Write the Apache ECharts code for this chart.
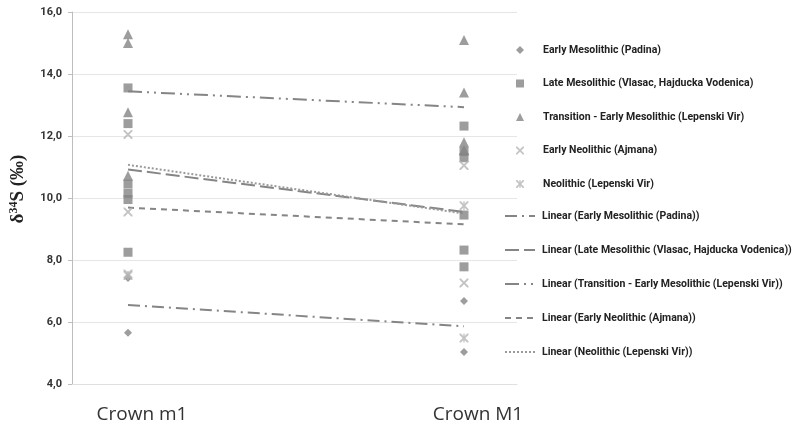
<!DOCTYPE html>
<html><head><meta charset="utf-8">
<script src="https://cdn.jsdelivr.net/npm/echarts@6/dist/echarts.min.js"></script>
<style>html,body{margin:0;padding:0;background:#fff}#c{width:796px;height:425px}</style>
</head><body><div id="c"></div>
<script>
// x positions of the two categories
const categories = ['Crown m1', 'Crown M1'];
const catX = [1, 2];
// y ticks
const yTicks = [4, 6, 8, 10, 12, 14, 16];

// scatter values per group: [values at Crown m1], [values at Crown M1]
const padinaA = [7.42, 5.65];
const padinaB = [6.68, 5.03];
const lateMesoA = [13.55, 12.4, 10.45, 10.15, 9.95, 8.25];
const lateMesoB = [12.32, 11.5, 11.3, 9.45, 8.32, 7.78];
const transA = [15.28, 15.0, 12.77, 10.72];
const transB = [15.1, 13.4, 11.8, 11.55];
const earlyNeoA = [12.05, 9.55, 7.55];
const earlyNeoB = [11.05, 7.26];
const neoA = [7.5];
const neoB = [9.75, 5.48];

// linear trend endpoints (m1, M1)
const trendPadina = [6.55, 5.86];
const trendLateMeso = [10.92, 9.55];
const trendTrans = [13.44, 12.93];
const trendEarlyNeo = [9.69, 9.15];
const trendNeo = [11.07, 9.5];

const names = [
  'Early Mesolithic (Padina)',
  'Late Mesolithic (Vlasac, Hajducka Vodenica)',
  'Transition - Early Mesolithic (Lepenski Vir)',
  'Early Neolithic (Ajmana)',
  'Neolithic (Lepenski Vir)'
];

function pts(a, b) {
  return a.map(v => [catX[0], v]).concat(b.map(v => [catX[1], v]));
}
const xPath = 'path://M0,0L3,0L10,7L17,0L20,0L20,3L13,10L20,17L20,20L17,20L10,13L3,20L0,20L0,17L7,10L0,3Z';
const starPath = 'path://M0,0L3,0L10,7L17,0L20,0L20,3L13,10L20,17L20,20L17,20L10,13L3,20L0,20L0,17L7,10L0,3ZM8.5,0L11.5,0L11.5,20L8.5,20Z';

const gray = '#858585';
const scat = [
  {name: names[0], data: pts(padinaA, padinaB), symbol: 'diamond', symbolSize: 8, color: gray},
  {name: names[1], data: pts(lateMesoA, lateMesoB), symbol: 'rect', symbolSize: 9, color: gray},
  {name: names[2], data: pts(transA, transB), symbol: 'triangle', symbolSize: 10, color: gray},
  {name: names[3], data: pts(earlyNeoA, earlyNeoB), symbol: xPath, symbolSize: 9, color: '#b5b5b5'},
  {name: names[4], data: pts(neoA, neoB), symbol: starPath, symbolSize: 9, color: '#b5b5b5'}
];
const trends = [
  {name: 'Linear (' + names[0] + ')', v: trendPadina, type: [12, 5, 2, 5], color: gray},
  {name: 'Linear (' + names[1] + ')', v: trendLateMeso, type: [14, 5], color: gray},
  {name: 'Linear (' + names[2] + ')', v: trendTrans, type: [14, 5, 2, 5, 2, 5], color: gray},
  {name: 'Linear (' + names[3] + ')', v: trendEarlyNeo, type: [6, 5], color: gray},
  {name: 'Linear (' + names[4] + ')', v: trendNeo, type: [2, 2], color: '#9a9a9a'}
];

const series = [];
scat.forEach(s => series.push({
  type: 'scatter', name: s.name, data: s.data, symbol: s.symbol, symbolSize: s.symbolSize,
  itemStyle: {color: s.color}, z: 3
}));
trends.forEach(t => series.push({
  type: 'line', name: t.name, data: [[catX[0], t.v[0]], [catX[1], t.v[1]]],
  symbol: 'none', lineStyle: {color: t.color, width: 2, type: t.type}, itemStyle: {color: t.color}, z: 2
}));

const legendFont = {fontFamily: 'Roboto', fontWeight: 'bold', fontSize: 10.5, color: '#222', lineHeight: 14};

const chart = echarts.init(document.getElementById('c'));
chart.setOption({
  animation: false,
  grid: {left: 72, right: 279, top: 12, bottom: 41, containLabel: false},
  xAxis: {
    type: 'value', min: 1 - 56 / 336, max: 2 + 53 / 336,
    axisLine: {show: true, lineStyle: {color: '#e0e0e0'}},
    axisTick: {show: false},
    splitLine: {show: false},
    axisLabel: {
      customValues: catX,
      formatter: v => categories[catX.indexOf(Math.round(v))] || '',
      fontFamily: 'Open Sans', fontSize: 19, color: '#333', margin: 21, padding: [0, 0, 0, 28]
    }
  },
  yAxis: {
    type: 'value', min: 4, max: 16, interval: 2,
    name: '{a|δ}{b|34}{a|S (‰)}', nameLocation: 'middle', nameGap: 44, nameRotate: 90,
    nameTextStyle: {padding: [0, 0, 0, 18], rich: {
      a: {fontFamily: 'Liberation Serif', fontWeight: 'bold', fontSize: 19, color: '#222'},
      b: {fontFamily: 'Liberation Serif', fontWeight: 'bold', fontSize: 12, color: '#222', verticalAlign: 'top', padding: [0, 0, 8, 0]}
    }},
    axisLine: {show: true, lineStyle: {color: '#bdbdbd'}},
    axisTick: {show: true, length: 4, lineStyle: {color: '#bdbdbd'}},
    splitLine: {lineStyle: {color: '#e6e6e6'}},
    axisLabel: {
      formatter: v => v.toFixed(1).replace('.', ','),
      fontFamily: 'Roboto', fontWeight: 'bold', fontSize: 11, color: '#333', margin: 10
    }
  },
  legend: [
    {
      orient: 'vertical', left: 516, top: 43, padding: 0, itemGap: 19.5, itemWidth: 8, itemHeight: 8,
      data: scat.map(s => ({name: s.name, icon: s.symbol, itemStyle: {color: s.color}})),
      textStyle: Object.assign({padding: [0, 0, 0, 14]}, legendFont)
    },
    {
      orient: 'vertical', left: 504, top: 209, padding: 0, itemGap: 20, itemWidth: 30, itemHeight: 8,
      data: trends.map(t => ({name: t.name, itemStyle: {color: 'rgba(0,0,0,0)', borderWidth: 0}})),
      textStyle: Object.assign({padding: [0, 0, 0, 2]}, legendFont)
    }
  ],
  series: series
});
</script></body></html>
